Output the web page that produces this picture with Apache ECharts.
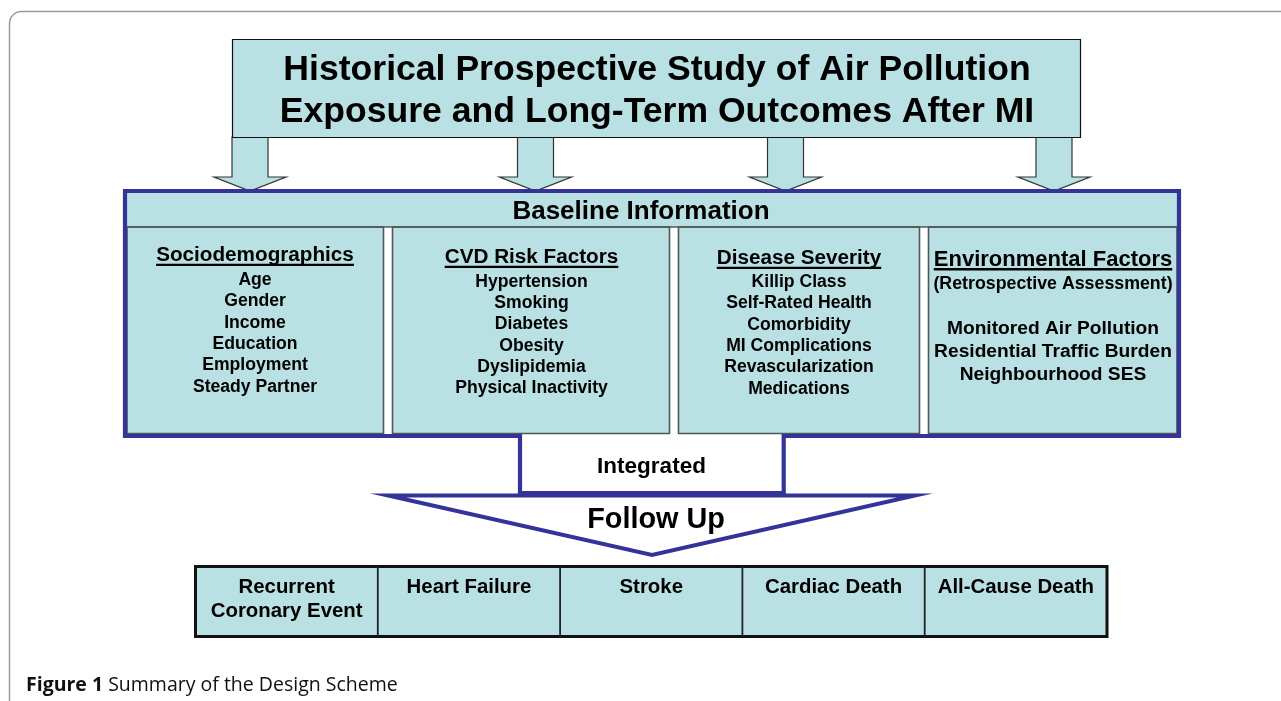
<!DOCTYPE html>
<html>
<head>
<meta charset="utf-8">
<script src="https://cdn.jsdelivr.net/npm/echarts@6/dist/echarts.min.js"></script>
<style>
html,body{margin:0;padding:0;background:#fff;}
#chart{width:1281px;height:701px;}
</style>
</head>
<body>
<div id="chart"></div>
<script>
// ---- content (text data) ----
const titleLines = ['Historical Prospective Study of Air Pollution', 'Exposure and Long-Term Outcomes After MI'];
const baselineLabel = 'Baseline Information';
const columnHeadings = ['Sociodemographics', 'CVD Risk Factors', 'Disease Severity', 'Environmental Factors'];
const envSubheading = '(Retrospective Assessment)';
const sociodemographics = ['Age', 'Gender', 'Income', 'Education', 'Employment', 'Steady Partner'];
const cvdRiskFactors = ['Hypertension', 'Smoking', 'Diabetes', 'Obesity', 'Dyslipidemia', 'Physical Inactivity'];
const diseaseSeverity = ['Killip Class', 'Self-Rated Health', 'Comorbidity', 'MI Complications', 'Revascularization', 'Medications'];
const environmentalFactors = ['Monitored Air Pollution', 'Residential Traffic Burden', 'Neighbourhood SES'];
const integratedLabel = 'Integrated';
const followUpLabel = 'Follow Up';
const outcomes = ['Recurrent\nCoronary Event', 'Heart Failure', 'Stroke', 'Cardiac Death', 'All-Cause Death'];
const captionBold = 'Figure 1';
const captionText = ' Summary of the Design Scheme';

// ---- styles / layout ----
const FF = '"Liberation Sans", Arial, Helvetica, sans-serif';
const CYAN = '#b9e0e3';
const BLUE = '#33339a';
const GRAY = '#4f5858';
const DY = 1.7; // vertical text offset

const measureCtx = document.createElement('canvas').getContext('2d');
function textWidth(str, size) {
  measureCtx.font = 'bold ' + size + 'px ' + FF;
  return measureCtx.measureText(str).width;
}
function txt(str, x, y, size, opts) {
  opts = opts || {};
  return {
    type: 'text', z: 50,
    style: {
      text: str, x: x, y: y + DY,
      fontSize: size, fontWeight: opts.weight || 'bold', fontFamily: opts.family || FF,
      fill: '#000', textAlign: opts.align || 'center', textVerticalAlign: 'middle'
    }
  };
}

const g = [];
// outer frame
g.push({type: 'rect', z: 1, shape: {x: 9.5, y: 11.5, width: 1400, height: 900, r: 12},
  style: {fill: '#fff', stroke: '#9a9a9a', lineWidth: 1.5}});

// title box
g.push({type: 'rect', z: 5, shape: {x: 232.5, y: 39.5, width: 848, height: 98},
  style: {fill: CYAN, stroke: '#111', lineWidth: 1.2}});
titleLines.forEach((t, i) => g.push(txt(t, 657, 68 + i * 42, 35.6)));

// arrows
const arrowCenters = [250, 535.5, 785.5, 1054];
arrowCenters.forEach(c => {
  g.push({type: 'polygon', z: 4, shape: {points: [
    [c - 18, 137], [c + 18, 137], [c + 18, 177], [c + 36, 177], [c, 191], [c - 36, 177], [c - 18, 177]
  ]}, style: {fill: CYAN, stroke: '#333', lineWidth: 1.2}});
});

// baseline header area
g.push({type: 'rect', z: 6, shape: {x: 125, y: 191, width: 1054, height: 36},
  style: {fill: CYAN, stroke: null}});
g.push({type: 'line', z: 7, shape: {x1: 127, y1: 227, x2: 1177, y2: 227},
  style: {stroke: GRAY, lineWidth: 1.6}});
g.push(txt(baselineLabel, 641, 210, 26));

// column boxes
const boxes = [[127, 383.5], [392.5, 669.5], [678.5, 919.5], [928.5, 1177]];
boxes.forEach(b => {
  g.push({type: 'rect', z: 6, shape: {x: b[0], y: 227, width: b[1] - b[0], height: 206.5},
    style: {fill: CYAN, stroke: GRAY, lineWidth: 1.6}});
});

// column texts
const colLists = [sociodemographics, cvdRiskFactors, diseaseSeverity];
const headY = [254, 256, 257];
const firstY = [278.3, 280, 280.3];
colLists.forEach((list, ci) => {
  const cx = [255, 531.5, 799][ci];
  const hs = 20.7;
  g.push(txt(columnHeadings[ci], cx, headY[ci], hs));
  const w = textWidth(columnHeadings[ci], hs);
  g.push({type: 'rect', z: 50, shape: {x: cx - w / 2, y: headY[ci] + 9.8, width: w, height: 2.2},
    style: {fill: '#000'}});
  list.forEach((it, k) => g.push(txt(it, cx, firstY[ci] + k * 21.35, 17.6)));
});
// environmental column
(function () {
  const cx = 1053;
  const hs = 22;
  g.push(txt(columnHeadings[3], cx, 258, hs));
  const w = textWidth(columnHeadings[3], hs);
  g.push({type: 'rect', z: 50, shape: {x: cx - w / 2, y: 268, width: w, height: 2.4},
    style: {fill: '#000'}});
  g.push(txt(envSubheading, cx, 282, 17.8));
  environmentalFactors.forEach((it, k) => g.push(txt(it, cx, 327 + k * 23, 19.2)));
})();

// triangle (follow up) - vertices placed so the mitred corners end where the reference's do
g.push({type: 'polygon', z: 8, shape: {points: [[388, 495.5], [915, 495.5], [652, 555]]},
  style: {fill: '#fff', stroke: BLUE, lineWidth: 4, lineJoin: 'miter', miterLimit: 30}});
// blue outline with integrated section
g.push({type: 'polygon', z: 9, shape: {points: [
  [125, 191], [1179, 191], [1179, 436], [783.7, 436], [783.7, 493], [520, 493], [520, 436], [125, 436]
]}, style: {fill: null, stroke: BLUE, lineWidth: 4.2, lineJoin: 'miter'}});
g.push(txt(integratedLabel, 651.5, 465, 22.5));
g.push(txt(followUpLabel, 656, 518, 28.8));

// outcomes table
const tx0 = 195.5, tx1 = 1107;
g.push({type: 'rect', z: 10, shape: {x: tx0, y: 566.5, width: tx1 - tx0, height: 70},
  style: {fill: CYAN, stroke: '#111', lineWidth: 3}});
const cw = (tx1 - tx0) / outcomes.length;
outcomes.forEach((o, i) => {
  if (i > 0) {
    g.push({type: 'line', z: 11, shape: {x1: tx0 + cw * i, y1: 566.5, x2: tx0 + cw * i, y2: 636.5},
      style: {stroke: '#222', lineWidth: 1.8}});
  }
  o.split('\n').forEach((ln, k) => g.push(txt(ln, tx0 + cw * (i + 0.5), 585.7 + k * 23.6, 20.4)));
});

// caption
g.push({type: 'text', z: 50, style: {
  text: '{b|' + captionBold + '}{r|' + captionText + '}', x: 26, y: 685.5,
  textAlign: 'left', textVerticalAlign: 'middle',
  rich: {
    b: {fontFamily: '"Open Sans", "Noto Sans", sans-serif', fontWeight: 'bold', fontSize: 19.5, fill: '#111'},
    r: {fontFamily: '"Open Sans", "Noto Sans", sans-serif', fontWeight: 'normal', fontSize: 19.5, fill: '#111'}
  }
}});

const chart = echarts.init(document.getElementById('chart'), null, {renderer: 'canvas'});
chart.setOption({backgroundColor: '#fff', animation: false, graphic: {elements: g}});
</script>
</body>
</html>
